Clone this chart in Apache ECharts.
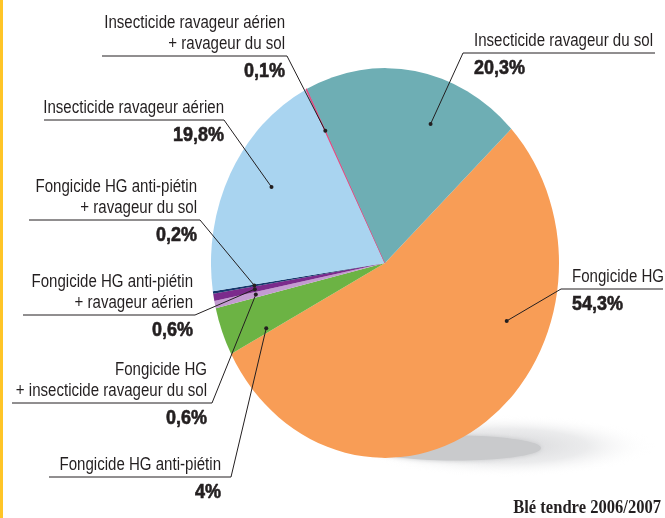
<!DOCTYPE html>
<html>
<head>
<meta charset="utf-8">
<script src="https://cdn.jsdelivr.net/npm/echarts@6/dist/echarts.min.js"></script>
<style>
  html, body { margin: 0; padding: 0; background: #fff; }
  #wrap { position: relative; width: 665px; height: 518px; overflow: hidden; }
  /* the printed pie is a little taller than wide, so stretch that layer only */
  #pie { position: absolute; left: 0; top: 0; width: 665px; height: 518px; transform: scaleY(1.12); transform-origin: 0 263px; }
  #over { position: absolute; left: 0; top: 0; width: 665px; height: 518px; }
</style>
</head>
<body>
<div id="wrap">
  <div id="pie"></div>
  <div id="over"></div>
</div>
<script>
  // slices, clockwise from the top right
  var names = [
    'Fongicide HG',
    'Fongicide HG anti-piétin',
    'Fongicide HG\n+ insecticide ravageur du sol',
    'Fongicide HG anti-piétin\n+ ravageur aérien',
    'Fongicide HG anti-piétin\n+ ravageur du sol',
    'Insecticide ravageur aérien',
    'Insecticide ravageur aérien\n+ ravageur du sol',
    'Insecticide ravageur du sol'
  ];
  var values = [54.3, 4, 0.6, 0.6, 0.2, 19.8, 0.1, 20.3];
  var colors = ['#F89D56', '#6CB344', '#C39BD1', '#7B2B8C', '#16386C', '#A9D4F0', '#E4447D', '#6EAEB4'];
  var footnote = 'Blé tendre 2006/2007';

  // where each label sits: underline y, corner x (where the leader line arrives), tail x
  var lineY = [289, 477, 403, 315, 220, 120, 56, 53];
  var cornerX = [561, 231, 212, 195, 200, 224, 287, 463];
  var tailX = [663, 49, 12, 23, 29, 44, 102, 655];
  var textX = [572, 221, 207, 193, 197, 224, 285, 474];
  // where the dot sits inside its slice (fraction of the slice angle)
  var dotAlong = [0.34, 0.12, 0.5, 0.5, 0.5, 0.55, 0.5, 0.64];
  var dotDepth = 0.76;

  var S = 1.12, CY = 263;
  var textFont = '"Liberation Sans", Arial, sans-serif';
  var narrow = 0.86; // squeeze to look like the condensed print face
  var ink = '#231F20';

  function sy(y) { return CY + (y - CY) / S; }

  var pieChart = echarts.init(document.getElementById('pie'), null, { renderer: 'svg' });
  pieChart.setOption({
    animation: false,
    graphic: [
      {
        type: 'ellipse', z: 0,
        shape: { cx: 505, cy: sy(446), rx: 150, ry: 31 / S },
        style: {
          fill: {
            type: 'radial', x: 0.5, y: 0.5, r: 0.5,
            colorStops: [
              { offset: 0, color: 'rgba(185,186,190,0.6)' },
              { offset: 0.55, color: 'rgba(205,206,209,0.4)' },
              { offset: 1, color: 'rgba(255,255,255,0)' }
            ]
          }
        }
      },
      {
        type: 'ellipse', z: 1,
        shape: { cx: 455, cy: sy(448), rx: 86, ry: 12.5 / S },
        style: { fill: '#C9CACC', shadowBlur: 4, shadowColor: '#C9CACC' }
      }
    ],
    series: [{
      type: 'pie',
      center: [385, CY],
      radius: 174,
      startAngle: 43.5,
      clockwise: true,
      label: { show: false },
      labelLine: { show: false },
      emphasis: { disabled: true },
      itemStyle: { borderWidth: 0 },
      data: names.map(function (n, i) {
        var style = { color: colors[i] };
        // the 0.1% sliver is printed as a visible hairline
        if (values[i] < 0.2) { style.borderColor = colors[i]; style.borderWidth = 0.8; }
        return { name: n, value: values[i], itemStyle: style };
      })
    }]
  });

  // leader lines start from the slice geometry the pie has just laid out
  var pieData = pieChart.getModel().getSeriesByIndex(0).getData();
  var els = [
    { type: 'rect', shape: { x: 0, y: 0, width: 3, height: 518 }, style: { fill: '#FFC527' } },
    {
      type: 'text', x: 661, y: 517, scaleX: 0.92,
      style: {
        text: footnote, x: 0, y: 0, align: 'right', verticalAlign: 'bottom',
        fontFamily: '"Liberation Serif", "DejaVu Serif", serif', fontWeight: 'bold', fontSize: 18, fill: ink
      }
    }
  ];

  names.forEach(function (n, i) {
    var lay = pieData.getItemLayout(i);
    var a = lay.startAngle + dotAlong[i] * (lay.endAngle - lay.startAngle);
    var px = lay.cx + dotDepth * lay.r * Math.cos(a);
    var py = lay.cy + dotDepth * lay.r * Math.sin(a);
    py = CY + (py - CY) * S;
    var align = tailX[i] < cornerX[i] ? 'right' : 'left';

    els.push({
      type: 'polyline',
      shape: { points: [[px, py], [cornerX[i], lineY[i]], [tailX[i], lineY[i]]] },
      style: { stroke: ink, lineWidth: 1, fill: null }
    });
    els.push({ type: 'circle', shape: { cx: px, cy: py, r: 2 }, style: { fill: ink } });
    els.push({
      type: 'text', x: textX[i], y: lineY[i] - 1.5, scaleX: narrow,
      style: {
        text: n, x: 0, y: 0, align: align, verticalAlign: 'bottom', lineHeight: 21,
        fontFamily: textFont, fontSize: 17.5, fill: ink
      }
    });
    els.push({
      type: 'text', x: textX[i], y: lineY[i] + 15, scaleX: 0.9,
      style: {
        text: String(values[i]).replace('.', ',') + '%', x: 0, y: 0,
        align: align, verticalAlign: 'middle',
        fontFamily: textFont, fontWeight: 'bold', fontSize: 20, fill: ink,
        stroke: ink, lineWidth: 0.6
      }
    });
  });

  var over = echarts.init(document.getElementById('over'));
  over.setOption({ animation: false, graphic: els });
</script>
</body>
</html>
